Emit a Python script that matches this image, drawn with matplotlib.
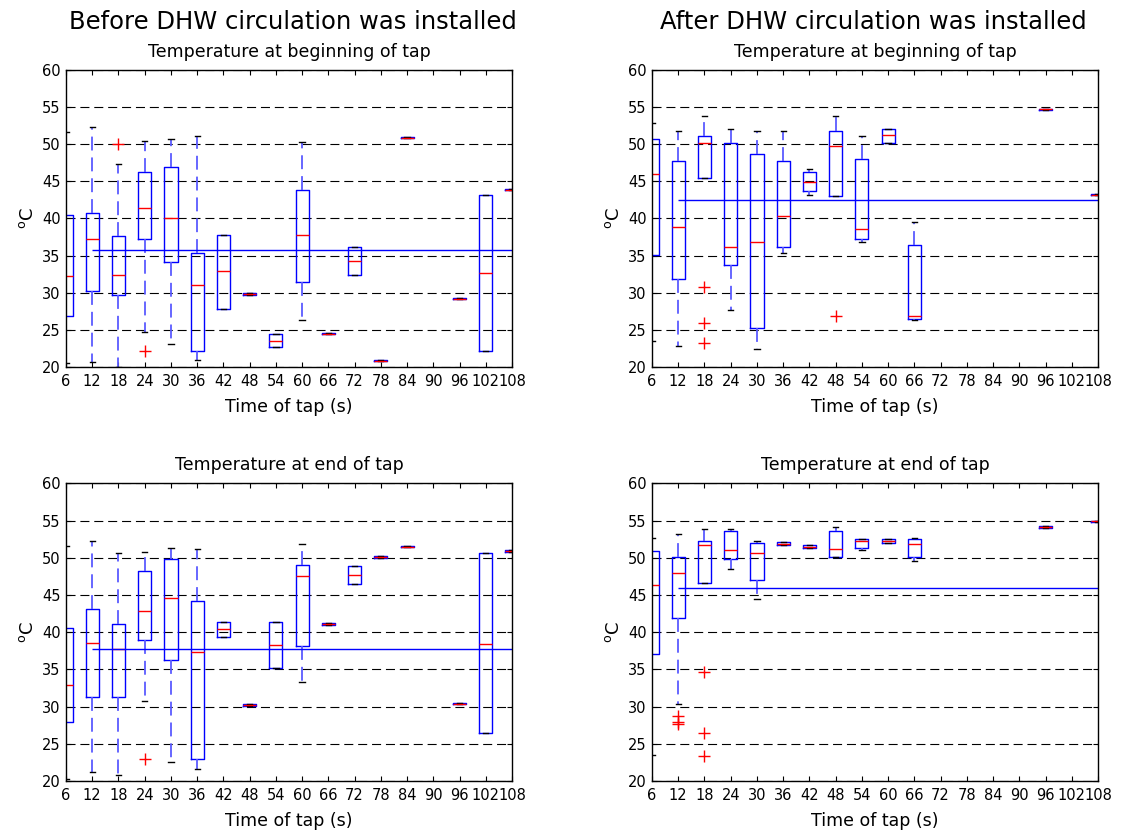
import numpy as np
import matplotlib
matplotlib.use('Agg')
import matplotlib.pyplot as plt

plt.rcParams['font.family'] = ['DejaVu Sans']
plt.rcParams['lines.scale_dashes'] = False
plt.rcParams['mathtext.default'] = 'regular'

nan = np.nan
tap_times = [6, 12, 18, 24, 30, 36, 42, 48, 54, 60, 66, 72, 78, 84, 90, 96, 102, 108]

# ---- Before DHW circulation, temperature at beginning of tap ----
a_q1 = [26.9, 30.3, 29.75, 37.2, 34.1, 22.2, 27.8, 29.7, 22.65, 31.4, 24.4, 32.4, 20.8, 50.8, nan, 29.1, 22.2, 43.8]
a_med = [32.3, 37.3, 32.4, 41.4, 40.0, 31.0, 32.9, 29.8, 23.5, 37.8, 24.5, 34.3, 20.85, 50.9, nan, 29.2, 32.7, 43.9]
a_q3 = [40.5, 40.8, 37.6, 46.3, 47.0, 35.3, 37.8, 29.9, 24.4, 43.9, 24.6, 36.2, 20.9, 51.0, nan, 29.3, 43.2, 44.0]
a_lo = [20.5, 20.7, 20.0, 24.7, 23.1, 21.0, 27.8, 29.7, 22.65, 26.3, 24.4, 32.4, 20.8, 50.8, nan, 29.1, 22.2, 43.8]
a_hi = [51.7, 52.3, 47.4, 50.5, 50.7, 51.1, 37.8, 29.9, 24.4, 50.3, 24.6, 36.2, 20.9, 51.0, nan, 29.3, 43.2, 44.0]
a_fliers = {18: [50.0], 24: [22.2]}
a_mean = 35.7

# ---- After DHW circulation, temperature at beginning of tap ----
b_q1 = [35.1, 31.8, 45.4, 33.8, 25.2, 36.2, 43.7, 43.0, 37.3, 50.2, 26.5, nan, nan, nan, nan, 54.6, nan, 43.1]
b_med = [46.0, 38.8, 50.2, 36.2, 36.9, 40.4, 44.9, 49.7, 38.6, 51.3, 26.9, nan, nan, nan, nan, 54.7, nan, 43.2]
b_q3 = [50.7, 47.8, 51.05, 50.2, 48.7, 47.8, 46.3, 51.8, 48.0, 52.1, 36.4, nan, nan, nan, nan, 54.8, nan, 43.3]
b_lo = [23.5, 22.8, 45.4, 27.7, 22.4, 35.4, 43.2, 43.0, 36.8, 50.2, 26.3, nan, nan, nan, nan, 54.6, nan, 43.1]
b_hi = [52.9, 51.8, 53.8, 52.1, 51.8, 51.8, 46.7, 53.8, 51.05, 52.1, 39.5, nan, nan, nan, nan, 54.8, nan, 43.3]
b_fliers = {18: [30.8, 25.9, 23.2], 48: [26.9]}
b_mean = 42.5

# ---- Before DHW circulation, temperature at end of tap ----
c_q1 = [27.9, 31.3, 31.3, 39.0, 36.25, 23.0, 39.3, 30.1, 35.2, 38.1, 41.0, 46.5, 50.0, 51.4, nan, 30.3, 26.4, 50.8]
c_med = [32.9, 38.5, 37.8, 42.8, 44.6, 37.3, 40.4, 30.2, 38.3, 47.5, 41.1, 47.7, 50.1, 51.5, nan, 30.4, 38.4, 50.9]
c_q3 = [40.5, 43.1, 41.1, 48.2, 49.8, 44.2, 41.4, 30.3, 41.4, 49.0, 41.2, 48.9, 50.2, 51.6, nan, 30.5, 50.6, 51.0]
c_lo = [20.3, 21.2, 20.8, 30.7, 22.5, 21.65, 39.3, 30.1, 35.2, 33.3, 41.0, 46.5, 50.0, 51.4, nan, 30.3, 26.4, 50.8]
c_hi = [51.6, 52.2, 50.6, 50.8, 51.3, 51.2, 41.4, 30.3, 41.4, 51.8, 41.2, 48.9, 50.2, 51.6, nan, 30.5, 50.6, 51.0]
c_fliers = {24: [22.9]}
c_mean = 37.7

# ---- After DHW circulation, temperature at end of tap ----
d_q1 = [37.1, 41.9, 46.6, 49.8, 47.0, 51.7, 51.3, 50.1, 51.3, 52.0, 50.1, nan, nan, nan, nan, 54.0, nan, 54.8]
d_med = [46.3, 48.0, 51.7, 51.0, 50.6, 51.8, 51.4, 51.2, 52.2, 52.2, 51.8, nan, nan, nan, nan, 54.1, nan, 54.9]
d_q3 = [50.9, 50.1, 52.2, 53.6, 52.0, 52.1, 51.7, 53.6, 52.5, 52.5, 52.5, nan, nan, nan, nan, 54.2, nan, 55.0]
d_lo = [23.5, 30.3, 46.6, 48.5, 44.4, 51.7, 51.3, 50.1, 51.0, 52.0, 49.6, nan, nan, nan, nan, 54.0, nan, 54.8]
d_hi = [52.7, 53.2, 53.9, 53.9, 52.2, 52.1, 51.7, 54.1, 52.5, 52.5, 52.7, nan, nan, nan, nan, 54.2, nan, 55.0]
d_fliers = {12: [28.8, 27.9, 27.7], 18: [34.6, 26.5, 23.3]}
d_mean = 45.9

W, H = 1122, 834
fig = plt.figure(figsize=(W / 100, H / 100), dpi=100)

def px_axes(left, top, right, bottom):
    return [left / W, 1 - bottom / H, (right - left) / W, (bottom - top) / H]

def panel(rect, q1, med, q3, lo, hi, fliers, mean):
    ax = fig.add_axes(rect)
    stats, pos = [], []
    for i, t in enumerate(tap_times):
        if np.isnan(med[i]):
            continue
        stats.append(dict(med=med[i], q1=q1[i], q3=q3[i], whislo=lo[i], whishi=hi[i],
                          fliers=fliers.get(t, [])))
        pos.append(i + 1)
    ax.yaxis.grid(True, color='k', linestyle=(0, (6.5, 3.5)), linewidth=0.8)
    ax.set_axisbelow(True)
    ax.bxp(stats, positions=pos, widths=0.5, capwidths=0.2, manage_ticks=False,
           boxprops=dict(color='#0000ff', linewidth=1.0),
           medianprops=dict(color='#ff0000', linewidth=1.0),
           whiskerprops=dict(color='#5a5aff', linestyle=(0, (10, 5)), linewidth=1.3),
           capprops=dict(color='k', linewidth=1.0),
           flierprops=dict(marker='+', markeredgecolor='#ff0000', markersize=8,
                           markeredgewidth=1.0, linestyle='none'))
    ax.hlines(mean, 2, len(tap_times), colors='#0000ff', linewidth=1.0, zorder=3)
    ax.set_xlim(1, len(tap_times))
    ax.set_ylim(20, 60)
    ax.set_xticks(np.arange(1, len(tap_times) + 1))
    ax.set_xticklabels([str(t) for t in tap_times])
    ax.set_yticks(np.arange(20, 61, 5))
    ax.tick_params(direction='in', top=True, right=True, length=3.6, width=0.8,
                   labelsize=10.5, colors='k')
    ax.tick_params(axis='x', pad=5)
    ax.tick_params(axis='y', pad=4)
    for s in ax.spines.values():
        s.set_linewidth(1.0)
        s.set_zorder(5)
    return ax

L1, R1, L2, R2 = 66, 512, 652, 1098
T1, B1, T2, B2 = 70, 367, 483.3, 781

panel(px_axes(L1, T1, R1, B1), a_q1, a_med, a_q3, a_lo, a_hi, a_fliers, a_mean)
panel(px_axes(L2, T1, R2, B1), b_q1, b_med, b_q3, b_lo, b_hi, b_fliers, b_mean)
panel(px_axes(L1, T2, R1, B2), c_q1, c_med, c_q3, c_lo, c_hi, c_fliers, c_mean)
panel(px_axes(L2, T2, R2, B2), d_q1, d_med, d_q3, d_lo, d_hi, d_fliers, d_mean)

def ftext(x, y, s, **kw):
    fig.text(x / W, 1 - y / H, s, ha='center', va='center', **kw)

cx1, cx2 = (L1 + R1) / 2, (L2 + R2) / 2
ftext(cx1 + 4, 22, 'Before DHW circulation was installed', fontsize=17.5)
ftext(cx2 - 2, 22, 'After DHW circulation was installed', fontsize=17.5)
ftext(cx1, 52, 'Temperature at beginning of tap', fontsize=12.5)
ftext(cx2, 52, 'Temperature at beginning of tap', fontsize=12.5)
ftext(cx1, 465, 'Temperature at end of tap', fontsize=12.5)
ftext(cx2, 465, 'Temperature at end of tap', fontsize=12.5)
for cx in (cx1, cx2):
    ftext(cx, 407, 'Time of tap (s)', fontsize=12.5)
    ftext(cx, 821, 'Time of tap (s)', fontsize=12.5)
for x in (28, 614):
    ftext(x, (T1 + B1) / 2, r'$^{o}$C', fontsize=13, rotation=90)
    ftext(x, (T2 + B2) / 2, r'$^{o}$C', fontsize=13, rotation=90)

fig.savefig('out.png', dpi=100, facecolor='white')
